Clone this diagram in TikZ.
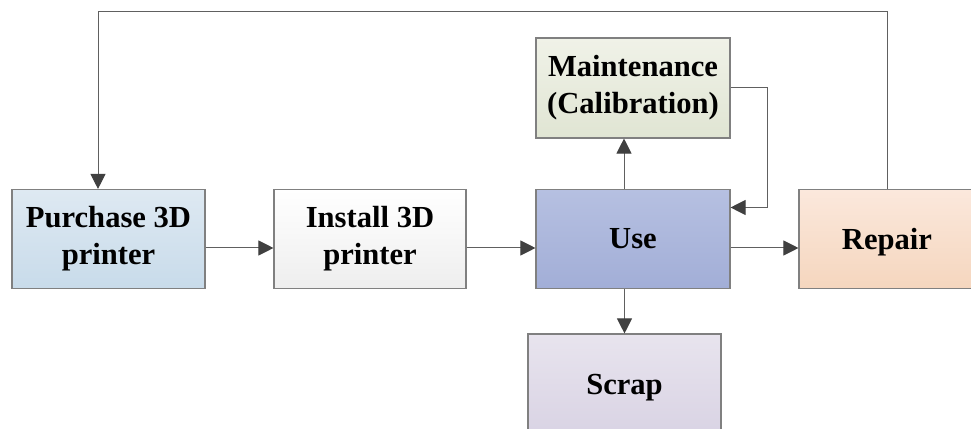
\documentclass[tikz,border=0pt]{standalone}
\usepackage{fontspec}
\setmainfont{Liberation Serif}
\usetikzlibrary{arrows.meta,calc}
\definecolor{bordc}{HTML}{808080}
\definecolor{linec}{HTML}{606060}
\definecolor{headc}{HTML}{404040}
\begin{document}
\begin{tikzpicture}[x=1pt,y=1pt,
  box/.style={draw=bordc,line width=1.1pt,minimum width=#1,minimum height=99pt,inner sep=0pt,
    align=center,font=\fontsize{30.6}{37}\selectfont\bfseries},
  arr/.style={draw=linec,line width=1pt,-{Triangle[length=15pt,width=15pt,fill=headc,color=headc]}},
  ln/.style={draw=linec,line width=1pt}]
\useasboundingbox (0,0) rectangle (971,428);
\node[box=193pt,top color={rgb,255:red,222;green,233;blue,242},bottom color={rgb,255:red,200;green,219;blue,234}]
  (p) at (108.5,189) {Purchase 3D\\printer};
\node[box=192pt,top color=white,bottom color={rgb,255:red,238;green,238;blue,238}]
  (i) at (370,189) {Install 3D\\printer};
\node[box=194pt,top color={rgb,255:red,182;green,192;blue,225},bottom color={rgb,255:red,162;green,174;blue,215}]
  (u) at (633,189) {Use};
\node[box=194pt,minimum height=100pt,top color={rgb,255:red,240;green,242;blue,232},bottom color={rgb,255:red,224;green,229;blue,211}]
  (m) at (633,340) {Maintenance\\(Calibration)};
\node[box=176pt,text depth=0pt,top color={rgb,255:red,251;green,232;blue,220},bottom color={rgb,255:red,245;green,214;blue,190}]
  (r) at (887,189) {Repair};
\node[box=193pt,text depth=0pt,minimum height=100pt,top color={rgb,255:red,232;green,228;blue,238},bottom color={rgb,255:red,217;green,211;blue,228}]
  (s) at (624.5,44) {Scrap};
\coordinate (top) at (887,416);
\draw[arr] ([yshift=-9pt]p.east) -- ([yshift=-9pt]i.west);
\draw[arr] ([yshift=-9pt]i.east) -- ([yshift=-9pt]u.west);
\draw[arr] ([yshift=-9pt]u.east) -- ([yshift=-9pt]r.west);
\draw[arr] ([xshift=-9pt]u.north) -- ([xshift=-9pt]m.south);
\draw[arr] (u.south -| s.north) -- (s.north);
\draw[arr] (m.east) -- ++(37,0) |- ([yshift=31.5pt]u.east);
\draw[arr] (r.north) -- (top) -| ([xshift=-10.5pt]p.north);
\end{tikzpicture}
\end{document}
